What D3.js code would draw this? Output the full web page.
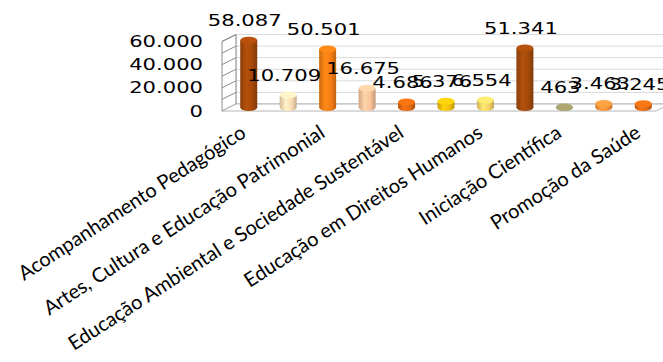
<!DOCTYPE html>
<html>
<head>
<meta charset="utf-8">
<script src="https://cdn.jsdelivr.net/npm/d3@7"></script>
<style>
  body { margin: 0; background: #fff; }
  svg { display: block; }
</style>
</head>
<body>
<svg id="chart" width="663" height="362"></svg>
<script>
// categories (Excel only prints every second label)
const categories = [
    'Acompanhamento Pedagógico',
    'Alfabetização',
    'Artes, Cultura e Educação Patrimonial',
    'Comunicação e Uso de Mídias',
    'Educação Ambiental e Sociedade Sustentável',
    'Educação Econômica',
    'Educação em Direitos Humanos',
    'Esporte e Lazer',
    'Iniciação Científica',
    'Memória e História das Comunidades',
    'Promoção da Saúde'
];
const values = [58087, 10709, 50501, 16675, 4686, 5376, 6554, 51341, 463, 3463, 3245];
const barColors = ['#a6490a', '#fcdcb4', '#f57d14', '#f8c39b', '#e2690f', '#f3c00c',
    '#f8d466', '#a34a0b', '#9b9664', '#f5933b', '#e06b12'];
const yTickValues = [0, 20000, 40000, 60000];
const gridValues = [0, 10000, 20000, 30000, 40000, 50000, 60000];

document.addEventListener('DOMContentLoaded', function () {
    const svg = d3.select('#chart');
    const fmt = d3.formatLocale({ decimal: ',', thousands: '.', grouping: [3], currency: ['', ''] }).format(',');

    // 3D box: front plane and depth offset
    const depth = { dx: 14, dy: -7 };
    const left = 222, right = 656;
    const yFront = d3.scaleLinear().domain([0, 60000]).range([111, 41.5]);
    const yBack = v => yFront(v) + depth.dy;
    const yMid = v => yFront(v) + depth.dy / 2;
    const xFront = d3.scaleBand().domain(categories).range([left, right]);
    const xMid = c => xFront(c) + xFront.bandwidth() / 2 + depth.dx / 2;

    const walls = svg.append('g');
    // back wall
    walls.append('rect')
        .attr('x', left + depth.dx).attr('y', yBack(60000))
        .attr('width', 700).attr('height', yBack(0) - yBack(60000))
        .attr('fill', '#fff').attr('stroke', '#c8c8c8');
    walls.selectAll('.grid')
        .data(gridValues)
        .enter()
        .append('line')
        .attr('class', 'grid')
        .attr('x1', left + depth.dx).attr('x2', 663)
        .attr('y1', d => yBack(d)).attr('y2', d => yBack(d))
        .attr('stroke', '#d9d9d9');
    // side wall
    walls.append('path')
        .attr('d', `M${left},${yFront(0)}L${left},${yFront(60000)}L${left + depth.dx},${yBack(60000)}L${left + depth.dx},${yBack(0)}Z`)
        .attr('fill', '#fff').attr('stroke', '#8c8c8c');
    walls.selectAll('.side-grid')
        .data(gridValues)
        .enter()
        .append('line')
        .attr('class', 'side-grid')
        .attr('x1', left).attr('x2', left + depth.dx)
        .attr('y1', d => yFront(d)).attr('y2', d => yBack(d))
        .attr('stroke', '#8c8c8c');
    // floor
    walls.append('path')
        .attr('d', `M${left},${yFront(0)}L${right},${yFront(0)}L${right + depth.dx},${yBack(0)}L${left + depth.dx},${yBack(0)}Z`)
        .attr('fill', '#fff').attr('stroke', '#b4b4b4');

    // gradients for the cylinders
    const defs = svg.append('defs');
    barColors.forEach((c, i) => {
        const g = defs.append('linearGradient').attr('id', 'grad' + i)
            .attr('x1', 0).attr('x2', 1).attr('y1', 0).attr('y2', 0);
        g.append('stop').attr('offset', '0%').attr('stop-color', d3.color(c).darker(0.5));
        g.append('stop').attr('offset', '35%').attr('stop-color', d3.color(c).brighter(0.25));
        g.append('stop').attr('offset', '70%').attr('stop-color', c);
        g.append('stop').attr('offset', '100%').attr('stop-color', d3.color(c).darker(0.7));
    });

    const rx = 8.5, ry = 3.5;
    const bars = svg.selectAll('.bar')
        .data(values)
        .enter()
        .append('g')
        .attr('class', 'bar');
    bars.append('path')
        .attr('d', (d, i) => {
            const cx = xMid(categories[i]);
            const top = yMid(d), bot = yMid(0);
            return `M${cx - rx},${top}L${cx - rx},${bot}A${rx},${ry} 0 0 0 ${cx + rx},${bot}L${cx + rx},${top}Z`;
        })
        .attr('fill', (d, i) => `url(#grad${i})`);
    bars.append('ellipse')
        .attr('cx', (d, i) => xMid(categories[i]))
        .attr('cy', d => yMid(d))
        .attr('rx', rx).attr('ry', ry)
        .attr('fill', (d, i) => d3.color(barColors[i]).brighter(0.3));

    // data labels
    const stretch = 1.32;
    svg.selectAll('.value-label')
        .data(values)
        .enter()
        .append('text')
        .attr('class', 'value-label')
        .attr('transform', (d, i) => `translate(${xMid(categories[i]) - 4},${yMid(d) - 14}) scale(${stretch},1)`)
        .attr('text-anchor', 'middle')
        .style('font-family', 'DejaVu Sans')
        .style('font-size', '16px')
        .attr('fill', '#000')
        .text(d => fmt(d));

    // y axis
    const yAxis = d3.axisLeft(yFront).tickValues(yTickValues).tickSize(0).tickFormat(d => fmt(d));
    const gy = svg.append('g')
        .attr('transform', `translate(${left - 19},0)`)
        .call(yAxis);
    gy.select('.domain').remove();
    gy.selectAll('text')
        .attr('x', 0)
        .attr('transform', `scale(${stretch},1)`)
        .style('font-family', 'DejaVu Sans')
        .style('font-size', '16px')
        .attr('fill', '#000');

    // x axis, every second label
    const xMidScale = d3.scalePoint().domain(categories)
        .range([xMid(categories[0]), xMid(categories[categories.length - 1])]);
    const xAxis = d3.axisBottom(xMidScale)
        .tickValues(categories.filter((c, i) => i % 2 === 0))
        .tickSize(0);
    const gx = svg.append('g')
        .attr('transform', 'translate(-2,136)')
        .call(xAxis);
    gx.select('.domain').remove();
    gx.selectAll('text')
        .attr('x', 0).attr('y', 0).attr('dy', 0)
        .attr('text-anchor', 'end')
        .attr('transform', 'rotate(-33)')
        .style('font-family', 'Lato')
        .style('font-size', '20px')
        .attr('fill', '#000');
});
</script>
</body>
</html>
